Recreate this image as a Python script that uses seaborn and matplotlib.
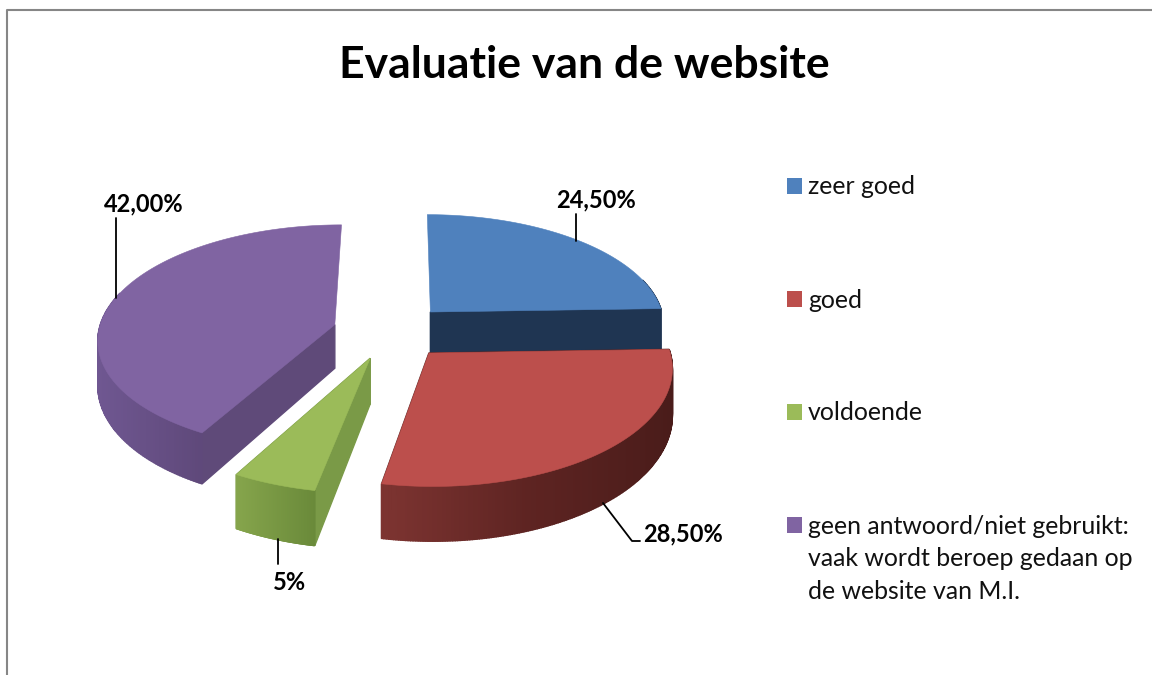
import numpy as np
import matplotlib
matplotlib.use('Agg')
import matplotlib.pyplot as plt
import seaborn as sns

categories = ['zeer goed', 'goed', 'voldoende',
              'geen antwoord/niet gebruikt:\nvaak wordt beroep gedaan op\nde website van M.I.']
values = [24.5, 28.5, 5, 42]
value_labels = ['24,50%', '28,50%', '5%', '42,00%']
top_colors = ['#4F81BD', '#BC4F4C', '#9BBB59', '#8064A2']
edge_colors = ['#1F3552', '#5A2422', '#7A9A47', '#5F4A79']
arc_shades = [['#1F3552', '#1F3552'],
              ['#7D3431', '#5E2422', '#4A1C1A'],
              ['#86A54C', '#6A8A3A'],
              ['#6F5791', '#5C4676', '#5F4A79']]

sns.set_theme(style='white')
plt.rcParams['font.family'] = ['Lato', 'DejaVu Sans']

fig, ax = plt.subplots(figsize=(11.52, 6.75), dpi=100)
ax.set_position([0, 0, 1, 1])

# flat exploded pie first, its wedges give the geometry of the tilted one
wedges, _ = ax.pie(values, startangle=90, counterclock=False, explode=[0.247] * 4,
                   center=(-0.04, 0), radius=1.005, colors=top_colors)
geometry = [(w.center, w.r, w.theta1, w.theta2) for w in wedges]
for w in wedges:
    w.remove()

ax.set_aspect('auto')
ax.set_xlim(0, 1152)
ax.set_ylim(675, 0)
ax.axis('off')


def project(x, y, drop=False):
    # perspective view of the pie plane, drop=True gives the underside
    s = 2055 / (2055 + 235 * np.asarray(y))
    sx = 400 + 235 * np.asarray(x) * s
    sy = 331.5 - 981 + 981 * s
    if drop:
        sy = sy + 44 * s ** 1.5
    return sx, sy


def wall(xa, ya, xb, yb, color, order):
    tx, ty = project(np.array([xa, xb]), np.array([ya, yb]))
    bx, by = project(np.array([xa, xb]), np.array([ya, yb]), drop=True)
    ax.fill([tx[0], tx[1], bx[1], bx[0]], [ty[0], ty[1], by[1], by[0]],
            color=color, lw=1.0, zorder=order)


# far slices first so the near ones cover them
for i in [0, 3, 2, 1]:
    (cx, cy), r, t1, t2 = geometry[i]
    ang = np.radians(np.linspace(t1, t2, 200))
    ax_x = cx + r * np.cos(ang)
    ax_y = cy + r * np.sin(ang)
    order = 2 + [0, 3, 2, 1].index(i) * 3

    # the cut edge pointing straight back stays hidden
    for end in [0, -1]:
        if np.sin(ang[end]) < 0.9:
            wall(cx, cy, ax_x[end], ax_y[end], edge_colors[i], order)

    sx_arc, _ = project(ax_x, ax_y)
    shades = sns.blend_palette(arc_shades[i], 200)
    left, right = sx_arc.min(), sx_arc.max()
    for k in range(len(ang) - 1):
        if ax_y[k] > cy + 0.3 * r:
            continue
        pos = (sx_arc[k] - left) / (right - left)
        wall(ax_x[k], ax_y[k], ax_x[k + 1], ax_y[k + 1], shades[int(pos * 199)], order + 1)

    px, py = project(np.r_[cx, ax_x], np.r_[cy, ax_y])
    ax.fill(px, py, color=top_colors[i], lw=0.4, zorder=order + 2)

# leader lines and value labels
ax.plot([576, 576], [214, 241], color='black', lw=1.3, zorder=30)
ax.plot([603, 632, 640], [503, 541, 541], color='black', lw=1.3, zorder=30)
ax.plot([278, 278], [539, 564], color='black', lw=1.3, zorder=30)
ax.plot([116, 116], [218, 298], color='black', lw=1.3, zorder=30)
label_pos = [(596, 200), (683, 534), (290, 583), (144, 204)]
for text, (lx, ly) in zip(value_labels, label_pos):
    ax.text(lx, ly, text, ha='center', va='center', fontsize=17, fontweight='bold', color='black')

# legend column
legend_y = [186, 299, 412, 525]
ax.scatter([794.5] * 4, legend_y, marker='s', s=117, c=top_colors, linewidths=0)
for name, ly in zip(categories, legend_y):
    ax.text(808, ly - 10.5, name, ha='left', va='top', fontsize=17.9, color='#111111', linespacing=1.52)

ax.text(584, 65, 'Evaluatie van de website', ha='center', va='center',
        fontsize=32, fontweight='bold', color='black')

# grey frame of the pasted chart
ax.plot([7, 7, 1152], [675, 10, 10], color='#868686', lw=1.5, clip_on=False)

fig.savefig('out.png', dpi=100)
